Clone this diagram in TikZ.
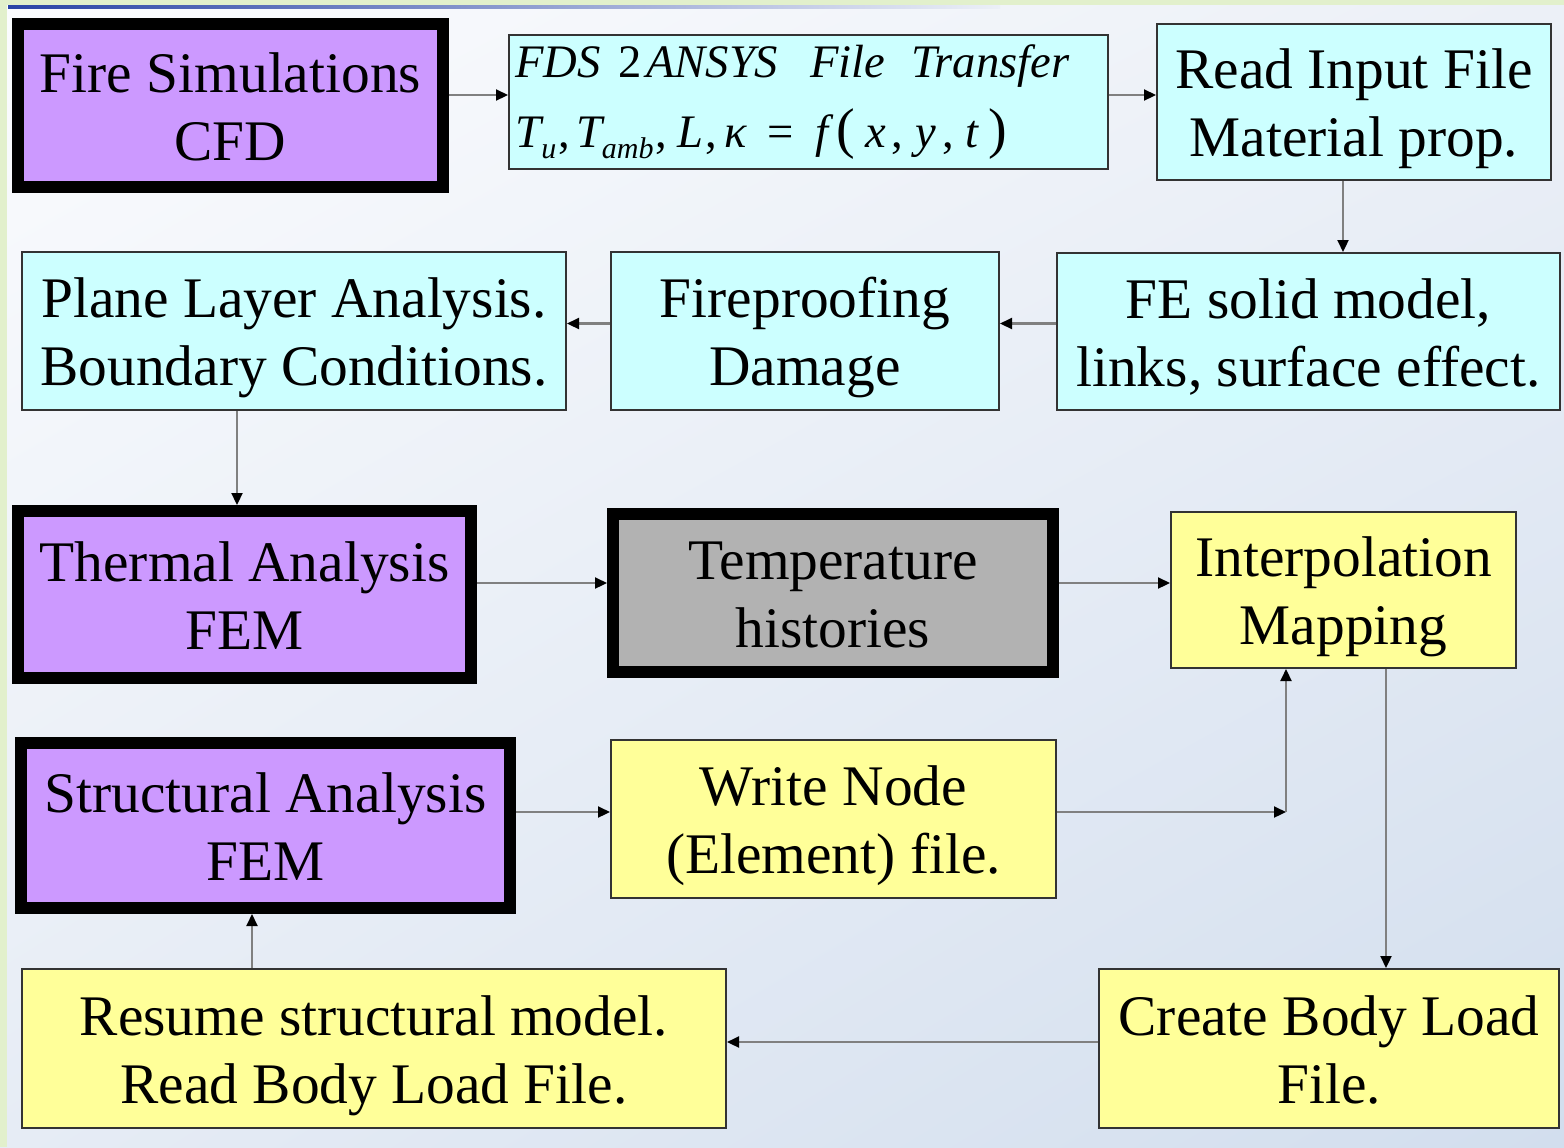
\documentclass[tikz,border=0pt]{standalone}
\usepackage{fontspec}
\setmainfont{Liberation Serif}
\usetikzlibrary{arrows.meta,calc,shadings}

\definecolor{purplefill}{HTML}{CC99FF}
\definecolor{cyanfill}{HTML}{CCFFFF}
\definecolor{yellowfill}{HTML}{FFFF99}
\definecolor{grayfill}{HTML}{B2B2B2}
\definecolor{bgUL}{HTML}{FBFCFE}
\definecolor{bgUR}{HTML}{ECF0F7}
\definecolor{bgLL}{HTML}{E6ECF5}
\definecolor{bgLR}{HTML}{D2DEEE}
\definecolor{stripgreen}{HTML}{E2F0CC}
\definecolor{rulelineblue}{HTML}{2A44A6}

% lowered italic index for the transfer formula
\newcommand{\lowidx}[1]{\raisebox{-5.5pt}{\fontsize{15}{15}\selectfont\itshape #1}}
% tall parenthesis for the transfer formula
\newcommand{\tallpar}[1]{{\fontsize{28}{28}\selectfont #1}}
% two centred lines on struts, set a little low in their box
\newcommand{\twolines}[2]{\raisebox{-3.5pt}[\height][\depth]{%
  \begin{tabular}{@{}c@{}}#1\\#2\end{tabular}}}

\tikzset{
  basebox/.style={draw=black!80, line width=1pt, inner sep=0pt, align=center,
    font=\fontsize{28.7}{34}\selectfont},
  cyanbox/.style={basebox, fill=cyanfill},
  yellowbox/.style={basebox, fill=yellowfill},
  heavybox/.style={basebox, draw=black, line width=6pt},
  purplebox/.style={heavybox, fill=purplefill},
  greybox/.style={heavybox, fill=grayfill},
  arr/.style={draw=black!50, line width=1.1pt,
    -{Triangle[length=6pt,width=5.5pt,color=black]}},
}

\begin{document}
\begin{tikzpicture}[x=0.5pt,y=-0.5pt]
% background
\useasboundingbox (0,0) rectangle (1564,1147);
\shade[upper left=bgUL, upper right=bgUR, lower left=bgLL, lower right=bgLR]
  (0,0) rectangle (1564,1147);
\fill[stripgreen] (0,0) rectangle (1564,5);
\fill[stripgreen] (0,0) rectangle (7,1147);
\shade[left color=rulelineblue, right color=bgUR] (8,5) rectangle (1000,8);

% boxes
\node[purplebox, minimum width=212.5pt, minimum height=81.5pt] (fire) at (230.5,105.5)
  {\twolines{Fire Simulations}{CFD}};
\node[cyanbox, minimum width=299.5pt, minimum height=67pt, text width=293pt,
  align=left, font=\fontsize{23.3}{35}\selectfont] (fds) at (808.5,102)
  {{\itshape FDS\hspace{9pt}{\upshape 2}\hspace{2pt}ANSYS\hspace{16pt}File\hspace{13pt}Transfer}\\
   {\itshape T}\lowidx{u}\hspace{1pt},\hspace{3pt}{\itshape T}\lowidx{amb}\hspace{1pt},\hspace{5pt}{\itshape L}\hspace{1pt},\hspace{4pt}{\itshape κ}\hspace{10pt}=\hspace{11pt}{\itshape f}\hspace{4pt}\tallpar{(}\hspace{5pt}{\itshape x}\hspace{3pt},\hspace{6pt}{\itshape y}\hspace{3pt},\hspace{6pt}{\itshape t}\hspace{5pt}\tallpar{)}};
\node[cyanbox, minimum width=197pt, minimum height=78pt] (read) at (1354,102)
  {\twolines{Read Input File}{Material prop.}};
\node[cyanbox, minimum width=251.5pt, minimum height=78.5pt] (fe) at (1308.5,331.5)
  {\twolines{FE solid model,}{links, surface effect.}};
\node[cyanbox, minimum width=194pt, minimum height=79pt] (fireproof) at (805,331)
  {\twolines{Fireproofing}{Damage}};
\node[cyanbox, minimum width=272pt, minimum height=79pt] (plane) at (294,331)
  {\twolines{Plane Layer Analysis.}{Boundary Conditions.}};
\node[purplebox, minimum width=226.5pt, minimum height=83.5pt] (thermal) at (244.5,594.5)
  {\twolines{Thermal Analysis}{FEM}};
\node[greybox, minimum width=220pt, minimum height=79pt] (temp) at (833,593)
  {\twolines{Temperature}{histories}};
\node[yellowbox, minimum width=172.5pt, minimum height=78pt] (interp) at (1343.5,590)
  {\twolines{Interpolation}{Mapping}};
\node[purplebox, minimum width=244.5pt, minimum height=82.5pt] (struct) at (265.5,825.5)
  {\twolines{Structural Analysis}{FEM}};
\node[yellowbox, minimum width=222.5pt, minimum height=79pt] (write) at (833.5,818.5)
  {\twolines{Write Node}{(Element) file.}};
\node[yellowbox, minimum width=352pt, minimum height=79.5pt] (resume) at (374,1048.5)
  {\twolines{Resume structural model.}{Read Body Load File.}};
\node[yellowbox, minimum width=230pt, minimum height=79.5pt] (create) at (1329,1048.5)
  {\twolines{Create Body Load}{File.}};

% routing points
\coordinate (r1) at ([yshift=3.5pt]fds.west);
\coordinate (r2) at ([xshift=-5.5pt]read.south);
\coordinate (r3) at ([yshift=4pt]fe.west);
\coordinate (r4) at ([xshift=-3.75pt]thermal.north);
\coordinate (r5) at ([yshift=5pt]temp.west);
\coordinate (bend) at (1286,812);
\coordinate (r6) at ([xshift=21.25pt]interp.south);
\coordinate (r7) at ([yshift=3.25pt]create.west);
\coordinate (r8) at ([xshift=-6.75pt]struct.south);

% connectors
\draw[arr] (r1 -| fire.east) -- (r1);
\draw[arr] (r1 -| fds.east) -- (r1 -| read.west);
\draw[arr] (r2) -- (r2 |- fe.north);
\draw[arr] (r3) -- (r3 -| fireproof.east);
\draw[arr] (r3 -| fireproof.west) -- (r3 -| plane.east);
\draw[arr] (r4 |- plane.south) -- (r4);
\draw[arr] (r5 -| thermal.east) -- (r5);
\draw[arr] (r5 -| temp.east) -- (r5 -| interp.west);
\draw[arr] (bend -| struct.east) -- (bend -| write.west);
\draw[arr] (bend -| write.east) -- (bend);
\draw[arr] (bend) -- (bend |- interp.south);
\draw[arr] (r6) -- (r6 |- create.north);
\draw[arr] (r7) -- (r7 -| resume.east);
\draw[arr] (r8 |- resume.north) -- (r8);
\end{tikzpicture}
\end{document}
